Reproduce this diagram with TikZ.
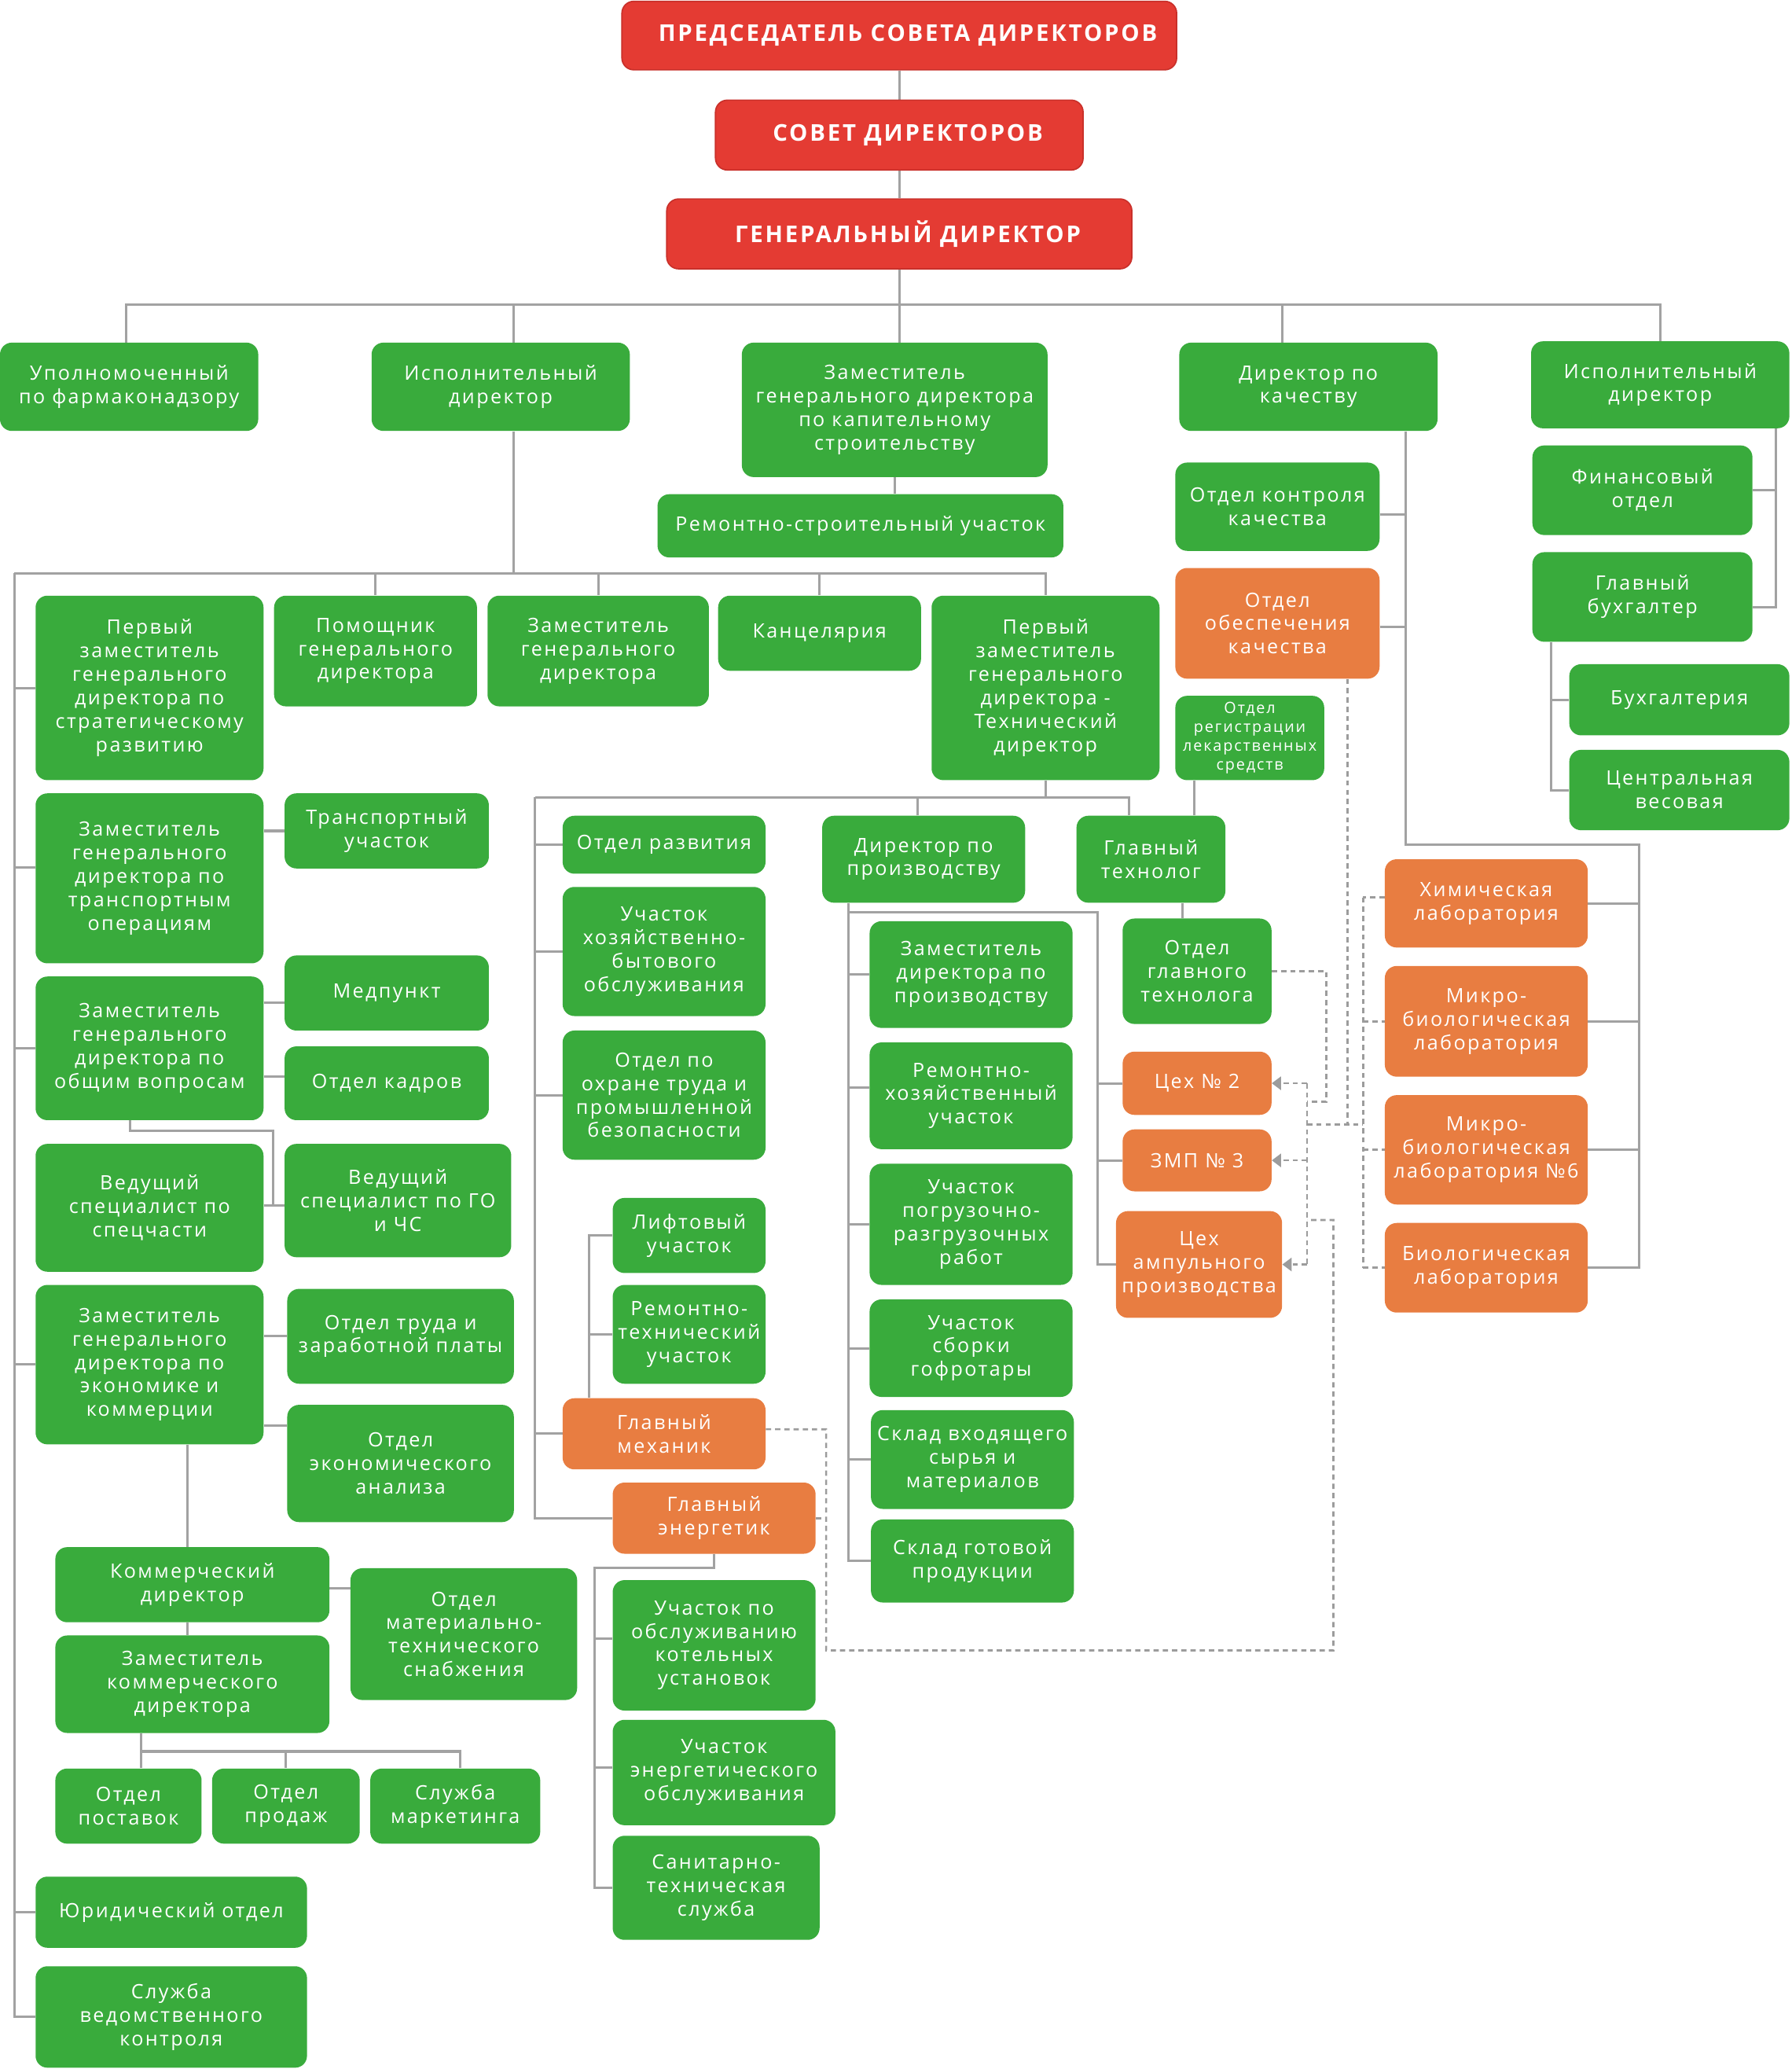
\documentclass[tikz,border=0pt]{standalone}
\usepackage{fontspec}
\setmainfont{Open Sans}[LetterSpace=9.5]
\usetikzlibrary{arrows.meta}
\definecolor{grn}{HTML}{39AB3C}
\definecolor{org}{HTML}{E87D41}
\definecolor{rd}{HTML}{E43B33}
\definecolor{rdb}{HTML}{C9302A}
\definecolor{ln}{HTML}{A2A2A2}
\definecolor{dln}{HTML}{9C9C9C}
\pgfdeclarelayer{bg}
\pgfsetlayers{bg,main}
\newcommand\bx[7]{\node[#1, minimum width={#5pt-#3pt}, minimum height={#6pt-#4pt}] (#2) at ({(#3+#5)/2},{(#4+#6)/2}) {#7};}
\tikzset{
  base/.style={rounded corners=9pt, inner sep=0pt, align=center, text=white, font=\fontsize{15}{17.8}\selectfont},
  gb/.style={base, fill=grn},
  ob/.style={base, fill=org},
  sm/.style={font=\fontsize{11.8}{14.3}\selectfont},
  rb/.style={base, fill=rd, draw=rdb, line width=1pt, font=\fontsize{17.5}{20}\selectfont\bfseries},
  con/.style={draw=ln, line width=1.8pt},
  dsh/.style={draw=dln, line width=1.6pt, dash pattern=on 4pt off 3pt},
  arr/.style={-{Triangle[length=7pt,width=10pt]}}
}
\begin{document}
\begin{tikzpicture}[x=1pt,y=-1pt]
\useasboundingbox (0,0) rectangle (1360,1570);
% red
\bx{rb}{chair}{472}{1}{893}{53}{\hspace*{13pt}ПРЕДСЕДАТЕЛЬ СОВЕТА ДИРЕКТОРОВ}
\bx{rb}{board}{543}{76}{822}{129}{\hspace*{13pt}СОВЕТ ДИРЕКТОРОВ}
\bx{rb}{gen}{506}{151}{859}{204}{\hspace*{13pt}ГЕНЕРАЛЬНЫЙ ДИРЕКТОР}
% level 2
\bx{gb}{g1}{0}{260}{196}{327}{Уполномоченный\\по фармаконадзору}
\bx{gb}{g2}{282}{260}{478}{327}{Исполнительный\\директор}
\bx{gb}{g3}{563}{260}{795}{362}{Заместитель\\генерального директора\\по капительному\\строительству}
\bx{gb}{g4}{895}{260}{1091}{327}{Директор по\\качеству}
\bx{gb}{g5}{1162}{259}{1358}{325}{Исполнительный\\директор}
\bx{gb}{rsu}{499}{375}{807}{423}{Ремонтно-строительный участок}
% row
\bx{gb}{b1}{27}{452}{200}{592}{Первый\\заместитель\\генерального\\директора по\\стратегическому\\развитию}
\bx{gb}{b2}{208}{452}{362}{536}{Помощник\\генерального\\директора}
\bx{gb}{b3}{370}{452}{538}{536}{Заместитель\\генерального\\директора}
\bx{gb}{b4}{545}{452}{699}{509}{Канцелярия}
\bx{gb}{b5}{707}{452}{880}{592}{Первый\\заместитель\\генерального\\директора -\\Технический\\директор}
% quality / finance
\bx{gb}{okk}{892}{351}{1047}{418}{Отдел контроля\\качества}
\bx{ob}{ook}{892}{431}{1047}{515}{Отдел\\обеспечения\\качества}
\bx{gb,sm}{reg}{892}{528}{1005}{592}{Отдел\\регистрации\\лекарственных\\средств}
\bx{gb}{fin}{1163}{338}{1330}{406}{Финансовый\\отдел}
\bx{gb}{glb}{1163}{419}{1330}{487}{Главный\\бухгалтер}
\bx{gb}{buh}{1191}{504}{1358}{558}{Бухгалтерия}
\bx{gb}{ves}{1191}{569}{1358}{630}{Центральная\\весовая}
% left column
\bx{gb}{trans}{27}{602}{200}{731}{Заместитель\\генерального\\директора по\\транспортным\\операциям}
\bx{gb}{tru}{216}{602}{371}{659}{Транспортный\\участок}
\bx{gb}{med}{216}{725}{371}{782}{Медпункт}
\bx{gb}{obsh}{27}{741}{200}{850}{Заместитель\\генерального\\директора по\\общим вопросам}
\bx{gb}{kadr}{216}{794}{371}{850}{Отдел кадров}
\bx{gb}{vspec}{27}{868}{200}{965}{Ведущий\\специалист по\\спецчасти}
\bx{gb}{vgo}{216}{868}{388}{954}{Ведущий\\специалист по ГО\\и ЧС}
\bx{gb}{econ}{27}{975}{200}{1096}{Заместитель\\генерального\\директора по\\экономике и\\коммерции}
\bx{gb}{trud}{218}{978}{390}{1050}{Отдел труда и\\заработной платы}
\bx{gb}{ean}{218}{1066}{390}{1155}{Отдел\\экономического\\анализа}
\bx{gb}{kom}{42}{1174}{250}{1231}{Коммерческий\\директор}
\bx{gb}{mts}{266}{1190}{438}{1290}{Отдел\\материально-\\технического\\снабжения}
\bx{gb}{zkom}{42}{1241}{250}{1315}{Заместитель\\коммерческого\\директора}
\bx{gb}{post}{42}{1342}{153}{1399}{Отдел\\поставок}
\bx{gb}{prod}{161}{1342}{273}{1399}{Отдел\\продаж}
\bx{gb}{mark}{281}{1342}{410}{1399}{Служба\\маркетинга}
\bx{gb}{jur}{27}{1424}{233}{1478}{Юридический отдел}
\bx{gb}{svk}{27}{1492}{233}{1569}{Служба\\ведомственного\\контроля}
% middle column
\bx{gb}{razv}{427}{619}{581}{663}{Отдел развития}
\bx{gb}{hoz}{427}{673}{581}{771}{Участок\\хозяйственно-\\бытового\\обслуживания}
\bx{gb}{ohr}{427}{782}{581}{880}{Отдел по\\охране труда и\\промышленной\\безопасности}
\bx{gb}{lift}{465}{909}{581}{966}{Лифтовый\\участок}
\bx{gb}{remt}{465}{975}{581}{1050}{Ремонтно-\\технический\\участок}
\bx{ob}{mech}{427}{1061}{581}{1115}{Главный\\механик}
\bx{ob}{energ}{465}{1125}{619}{1179}{Главный\\энергетик}
\bx{gb}{kot}{465}{1199}{619}{1298}{Участок по\\обслуживанию\\котельных\\установок}
\bx{gb}{enob}{465}{1305}{634}{1385}{Участок\\энергетического\\обслуживания}
\bx{gb}{san}{465}{1393}{622}{1472}{Санитарно-\\техническая\\служба}
% production
\bx{gb}{dpr}{624}{619}{778}{685}{Директор по\\производству}
\bx{gb}{gtech}{817}{619}{930}{685}{Главный\\технолог}
\bx{gb}{otg}{852}{697}{965}{777}{Отдел\\главного\\технолога}
\bx{gb}{zdp}{660}{699}{814}{780}{Заместитель\\директора по\\производству}
\bx{gb}{rhu}{660}{791}{814}{872}{Ремонтно-\\хозяйственный\\участок}
\bx{gb}{pogr}{660}{883}{814}{975}{Участок\\погрузочно-\\разгрузочных\\работ}
\bx{gb}{sbor}{660}{986}{814}{1060}{Участок\\сборки\\гофротары}
\bx{gb}{skv}{661}{1070}{815}{1145}{Склад входящего\\сырья и\\материалов}
\bx{gb}{skg}{661}{1153}{815}{1216}{Склад готовой\\продукции}
\bx{ob}{ceh2}{852}{798}{965}{846}{Цех № 2}
\bx{ob}{zmp}{852}{857}{965}{904}{ЗМП № 3}
\bx{ob}{amp}{847}{919}{973}{1000}{Цех\\ампульного\\производства}
% labs
\bx{ob}{chem}{1051}{652}{1205}{719}{Химическая\\лаборатория}
\bx{ob}{micro}{1051}{733}{1205}{817}{Микро-\\биологическая\\лаборатория}
\bx{ob}{micro6}{1051}{831}{1205}{914}{Микро-\\биологическая\\лаборатория №6}
\bx{ob}{bio}{1051}{928}{1205}{996}{Биологическая\\лаборатория}

\begin{pgfonlayer}{bg}
% top
\draw[con] (chair.south) -- (board.north);
\draw[con] (board.south) -- (gen.north);
\coordinate (t1) at (0,231);
\draw[con] (gen.south) -- (gen.south |- g3.north);
\draw[con] ([xshift=-2pt]g1.north) |- (g5.north |- t1) -- (g5.north);
\draw[con] ([xshift=10pt]g2.north) -- ([xshift=10pt]g2.north |- t1);
\draw[con] ([xshift=-20pt]g4.north) -- ([xshift=-20pt]g4.north |- t1);
\draw[con] (g3.south) -- (g3.south |- rsu.north);
% executive director bus
\coordinate (sp) at (11,435);
\draw[con] ([xshift=10pt]g2.south) -- ([xshift=10pt]g2.south |- sp);
\draw[con] (sp) -- (b5.north |- sp) -- (b5.north);
\foreach \n in {b2,b3,b4} \draw[con] (\n.north |- sp) -- (\n.north);
\draw[con] (sp) |- (svk.west);
\foreach \n in {b1,obsh,econ,jur} \draw[con] (sp |- \n.west) -- (\n.west);
\draw[con] ([yshift=8pt]trans.west) -- ([yshift=8pt]trans.west -| sp);
\draw[con] (tru.west) -- (tru.west -| trans.east);
\draw[con] ([yshift=-7.5pt]med.west) -- ([yshift=-7.5pt]med.west -| obsh.east);
\draw[con] ([yshift=5pt]kadr.west) -- ([yshift=5pt]kadr.west -| obsh.east);
\coordinate (vj) at (207.5,914.5);
\draw[con] ([xshift=-14.5pt]obsh.south) -- ++(0,8) -| (vj);
\draw[con] (vspec.east |- vj) -- (vgo.west |- vj);
\draw[con] (trud.west) -- (trud.west -| econ.east);
\draw[con] ([yshift=28.5pt]ean.west) -- ([yshift=28.5pt]ean.west -| econ.east);
\draw[con] ([xshift=-4pt]kom.north) -- ([xshift=-4pt]kom.north |- econ.south);
\draw[con] ([xshift=-4pt]kom.south) -- ([xshift=-4pt]zkom.north);
\draw[con] ([yshift=-3pt]kom.east) -- ([yshift=-3pt]kom.east -| mts.west);
\coordinate (zb) at (107,1329);
\draw[con] (zb |- zkom.south) -- (zb) -- (zb |- post.north);
\draw[con] (zb) -| ([xshift=4pt]mark.north);
\draw[con] (prod.north |- zb) -- (prod.north);
% technical director
\coordinate (mb) at (406,605);
\coordinate (gtd) at (857,605);
\draw[con] (b5.south) -- (b5.south |- mb);
\draw[con] (mb) -- (gtd) -- (gtd |- gtech.north);
\draw[con] ([xshift=-4.5pt]dpr.north) -- ([xshift=-4.5pt]dpr.north |- mb);
\draw[con] (mb) |- (energ.west);
\foreach \n in {razv,hoz,ohr,mech} \draw[con] (mb |- \n.west) -- (\n.west);
\coordinate (mv) at (447,0);
\draw[con] (mv |- mech.north) -- (mv |- lift.west) -- (lift.west);
\draw[con] (mv |- remt.west) -- (remt.west);
\coordinate (ev) at (451,1190);
\draw[con] (energ.south) |- (ev) |- (san.west);
\draw[con] ([yshift=5pt]kot.west) -- ([yshift=5pt]kot.west -| ev);
\draw[con] ([yshift=4pt]enob.west) -- ([yshift=4pt]enob.west -| ev);
% production
\coordinate (pv) at (644,0);
\draw[con] (pv |- dpr.south) -- (pv |- skg.west) -- (skg.west);
\foreach \n in {zdp,pogr,sbor,skv} \draw[con] (pv |- \n.west) -- (\n.west);
\draw[con] ([yshift=6pt]rhu.west) -- ([yshift=6pt]rhu.west -| pv);
\coordinate (cv) at (833,692);
\draw[con] (pv |- cv) -- (cv) |- (amp.west);
\draw[con] (cv |- ceh2.west) -- (ceh2.west);
\draw[con] (cv |- zmp.west) -- (zmp.west);
\draw[con] ([xshift=24pt]gtech.south) -- ([xshift=24pt]gtech.south |- otg.north);
\draw[con] ([xshift=33pt]gtech.north) -- ([xshift=33pt]gtech.north |- reg.south);
% quality
\coordinate (qv) at (1067,641);
\coordinate (qr) at (1244,641);
\draw[con] ([xshift=74pt]g4.south) -- (qv) -- (qr) |- (bio.east);
\draw[con] ([yshift=-6pt]okk.east) -- ([yshift=-6pt]okk.east -| qv);
\draw[con] ([yshift=-3pt]ook.east) -- ([yshift=-3pt]ook.east -| qv);
\foreach \n in {chem,micro,micro6} \draw[con] (\n.east) -- (\n.east -| qr);
% finance
\coordinate (rv) at (1348,0);
\draw[con] (rv |- g5.south) |- ([yshift=-8pt]glb.east);
\draw[con] (fin.east) -- (fin.east -| rv);
\coordinate (bv) at (1177,0);
\draw[con] (bv |- glb.south) |- (ves.west);
\draw[con] (bv |- buh.west) -- (buh.west);
% dashed
\coordinate (da) at (627,1084.6);
\coordinate (db) at (627,1252.3);
\coordinate (dc) at (1012,1252.3);
\coordinate (dd) at (1012,925.8);
\coordinate (de) at (992,925.8);
\draw[dsh] ([yshift=3.5pt]mech.east) -- (da) -- (db) -- (dc) -- (dd) -- (de);
\draw[dsh] (energ.east) -- (energ.east -| da);
\coordinate (dg) at (1006.5,836);
\draw[dsh] (otg.east) -| (dg) -- (dg -| de);
\draw[dsh] (de |- ceh2.east) -- (de |- amp.east);
\draw[dsh,arr] (de |- ceh2.east) -- (ceh2.east);
\draw[dsh,arr] (de |- zmp.east) -- (zmp.east);
\draw[dsh,arr] (de |- amp.east) -- (amp.east);
\coordinate (dh) at (1022.6,853.4);
\coordinate (dl) at (1034.5,853.4);
\draw[dsh] (ook.south -| dh) -- (dh);
\draw[dsh] (de |- dh) -- (dl);
\draw[dsh] ([yshift=4.5pt]chem.west -| dl) -- (dl |- bio.west);
\draw[dsh] ([yshift=4.5pt]chem.west) -- ([yshift=4.5pt]chem.west -| dl);
\foreach \n in {micro,micro6,bio} \draw[dsh] (dl |- \n.west) -- (\n.west);
\end{pgfonlayer}
\end{tikzpicture}
\end{document}
